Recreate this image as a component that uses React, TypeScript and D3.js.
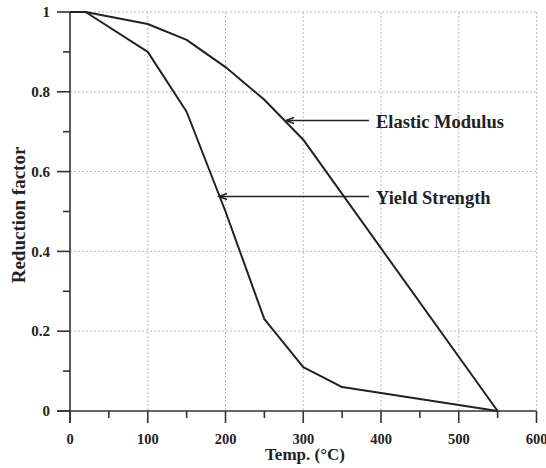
import React from "react";
import * as d3 from "d3";

const tempElastic = [0, 20, 100, 150, 200, 250, 300, 550];
const elasticModulus = [1, 1, 0.97, 0.93, 0.862, 0.78, 0.68, 0];
const tempYield = [0, 20, 100, 150, 200, 250, 300, 350, 550];
const yieldStrength = [1, 1, 0.9, 0.75, 0.5, 0.23, 0.11, 0.06, 0];
const xTicks = [0, 100, 200, 300, 400, 500, 600];
const xMinor = [50, 150, 250, 350, 450, 550];
const yTicks = [0, 0.2, 0.4, 0.6, 0.8, 1];
const yMinor = [0.1, 0.3, 0.5, 0.7, 0.9];
const yTickLabels = ["0", "0.2", "0.4", "0.6", "0.8", "1"];

export default function App() {
  const W = 546, H = 468;
  const x = d3.scaleLinear().domain([0, 600]).range([70, 536.5]);
  const y = d3.scaleLinear().domain([0, 1]).range([411, 12]);
  const line = d3.line<[number, number]>().x(d => x(d[0])).y(d => y(d[1]));
  const eData: [number, number][] = tempElastic.map((t, i) => [t, elasticModulus[i]]);
  const yData: [number, number][] = tempYield.map((t, i) => [t, yieldStrength[i]]);
  const font = "'Liberation Serif', 'Times New Roman', serif";
  const axisColor = "#333";
  const arrow = (tipX: number, tipY: number, startX: number, key: string) => (
    <g key={key}>
      <line x1={startX} x2={tipX + 1} y1={tipY} y2={tipY} stroke="#222" strokeWidth={1.6} />
      <path d={`M${tipX + 8},${tipY - 3} L${tipX},${tipY} L${tipX + 8},${tipY + 3}`} fill="none" stroke="#222" strokeWidth={1.5} />
    </g>
  );
  return (
    <svg width={W} height={H} style={{ position: "absolute", left: 0, top: 0 }} fontFamily={font}>
      {/* grid */}
      {xTicks.slice(1).map(t => (
        <line key={"gx" + t} x1={x(t)} x2={x(t)} y1={y(1)} y2={y(0)} stroke="#bbb" strokeWidth={1} strokeDasharray="2,2" />
      ))}
      {yTicks.slice(1).map(t => (
        <line key={"gy" + t} x1={x(0)} x2={x(600)} y1={y(t)} y2={y(t)} stroke="#bbb" strokeWidth={1} strokeDasharray="2,2" />
      ))}
      {/* axes */}
      <line x1={x(0)} x2={x(0)} y1={y(1)} y2={y(0) + 12} stroke={axisColor} strokeWidth={1.6} />
      <line x1={x(0) - 13} x2={x(600)} y1={y(0)} y2={y(0)} stroke={axisColor} strokeWidth={1.6} />
      {yTicks.map((t, i) => (
        <g key={"yt" + t}>
          <line x1={x(0) - 13} x2={x(0)} y1={y(t)} y2={y(t)} stroke={axisColor} strokeWidth={1.6} />
          <text x={x(0) - 20} y={y(t)} dy="0.35em" textAnchor="end" fontSize={15} fontWeight="bold" fill="#222">{yTickLabels[i]}</text>
        </g>
      ))}
      {yMinor.map(t => (
        <line key={"ym" + t} x1={x(0) - 7} x2={x(0)} y1={y(t)} y2={y(t)} stroke={axisColor} strokeWidth={1.6} />
      ))}
      {xTicks.map(t => (
        <g key={"xt" + t}>
          <line x1={x(t)} x2={x(t)} y1={y(0)} y2={y(0) + 12} stroke={axisColor} strokeWidth={1.6} />
          <text x={x(t)} y={443.5} textAnchor="middle" fontSize={14.5} fontWeight="bold" fill="#222">{t}</text>
        </g>
      ))}
      {xMinor.map(t => (
        <line key={"xm" + t} x1={x(t)} x2={x(t)} y1={y(0)} y2={y(0) + 7} stroke={axisColor} strokeWidth={1.6} />
      ))}
      {/* data lines */}
      <path d={line(eData) || ""} fill="none" stroke="#222" strokeWidth={2} strokeLinejoin="round" />
      <path d={line(yData) || ""} fill="none" stroke="#222" strokeWidth={2} strokeLinejoin="round" />
      {/* annotations */}
      {arrow(286, 120.5, 369, "a1")}
      <text x={376} y={128} fontSize={18.5} fontWeight="bold" fill="#222">Elastic Modulus</text>
      {arrow(219, 196.5, 369, "a2")}
      <text x={376} y={204} fontSize={18.5} fontWeight="bold" fill="#222">Yield Strength</text>
      {/* axis titles */}
      <text x={305} y={460} textAnchor="middle" fontSize={17} fontWeight="bold" fill="#222">Temp. (°C)</text>
      <text transform={`translate(25,215) rotate(-90)`} textAnchor="middle" fontSize={19} fontWeight="bold" fill="#222">Reduction factor</text>
    </svg>
  );
}
